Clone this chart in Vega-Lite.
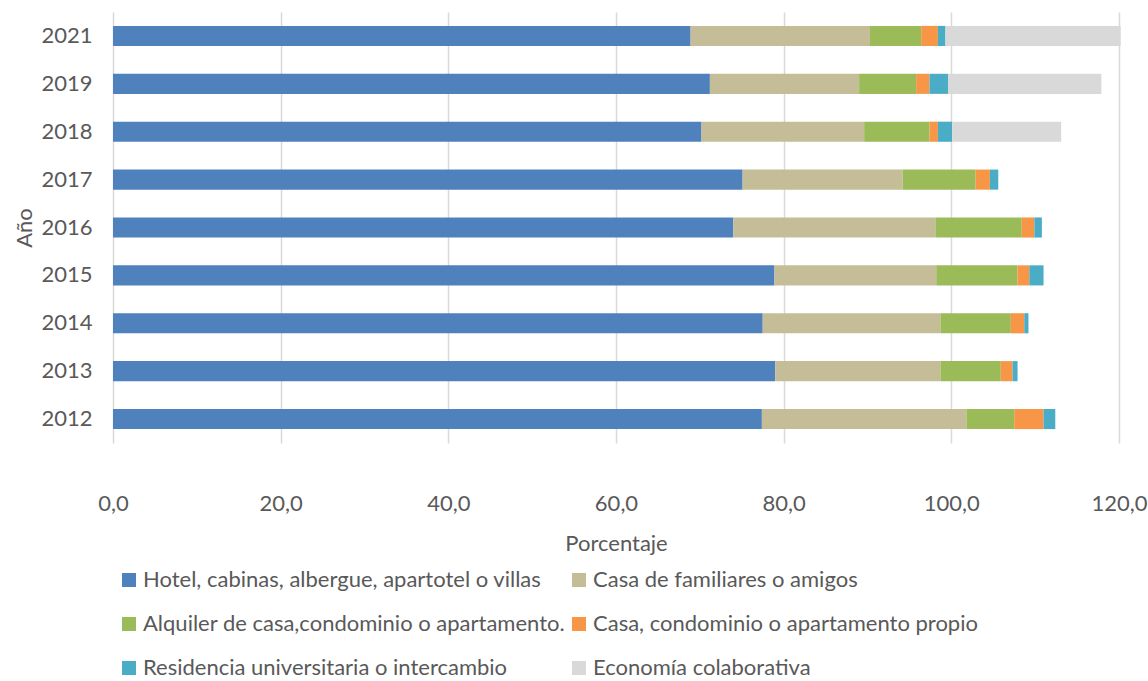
{
  "$schema": "https://vega.github.io/schema/vega-lite/v6.json",
  "autosize": "none",
  "width": 1006,
  "height": 431,
  "padding": {"left": 113, "top": 12, "right": 29, "bottom": 238},
  "background": "white",
  "config": {
    "font": "Lato",
    "view": {"stroke": null},
    "axis": {"labelFont": "Lato", "titleFont": "Lato", "labelColor": "#595959", "titleColor": "#595959", "labelFontSize": 22, "titleFontSize": 22, "titleFontWeight": "normal"},
    "legend": {"labelFont": "Lato", "labelColor": "#595959", "labelFontSize": 22}
  },
  "data": {
    "values": [
      {"anio": "2021", "tipo": "Hotel, cabinas, albergue, apartotel o villas", "orden": 1, "valor": 68.9},
      {"anio": "2021", "tipo": "Casa de familiares o amigos", "orden": 2, "valor": 21.4},
      {"anio": "2021", "tipo": "Alquiler de casa,condominio o apartamento.", "orden": 3, "valor": 6.1},
      {"anio": "2021", "tipo": "Casa, condominio o apartamento propio", "orden": 4, "valor": 2.0},
      {"anio": "2021", "tipo": "Residencia universitaria o intercambio", "orden": 5, "valor": 0.9},
      {"anio": "2021", "tipo": "Economía colaborativa", "orden": 6, "valor": 20.9},
      {"anio": "2019", "tipo": "Hotel, cabinas, albergue, apartotel o villas", "orden": 1, "valor": 71.2},
      {"anio": "2019", "tipo": "Casa de familiares o amigos", "orden": 2, "valor": 17.8},
      {"anio": "2019", "tipo": "Alquiler de casa,condominio o apartamento.", "orden": 3, "valor": 6.8},
      {"anio": "2019", "tipo": "Casa, condominio o apartamento propio", "orden": 4, "valor": 1.6},
      {"anio": "2019", "tipo": "Residencia universitaria o intercambio", "orden": 5, "valor": 2.2},
      {"anio": "2019", "tipo": "Economía colaborativa", "orden": 6, "valor": 18.3},
      {"anio": "2018", "tipo": "Hotel, cabinas, albergue, apartotel o villas", "orden": 1, "valor": 70.2},
      {"anio": "2018", "tipo": "Casa de familiares o amigos", "orden": 2, "valor": 19.4},
      {"anio": "2018", "tipo": "Alquiler de casa,condominio o apartamento.", "orden": 3, "valor": 7.8},
      {"anio": "2018", "tipo": "Casa, condominio o apartamento propio", "orden": 4, "valor": 1.0},
      {"anio": "2018", "tipo": "Residencia universitaria o intercambio", "orden": 5, "valor": 1.7},
      {"anio": "2018", "tipo": "Economía colaborativa", "orden": 6, "valor": 13.0},
      {"anio": "2017", "tipo": "Hotel, cabinas, albergue, apartotel o villas", "orden": 1, "valor": 75.1},
      {"anio": "2017", "tipo": "Casa de familiares o amigos", "orden": 2, "valor": 19.1},
      {"anio": "2017", "tipo": "Alquiler de casa,condominio o apartamento.", "orden": 3, "valor": 8.7},
      {"anio": "2017", "tipo": "Casa, condominio o apartamento propio", "orden": 4, "valor": 1.7},
      {"anio": "2017", "tipo": "Residencia universitaria o intercambio", "orden": 5, "valor": 1.0},
      {"anio": "2016", "tipo": "Hotel, cabinas, albergue, apartotel o villas", "orden": 1, "valor": 74.0},
      {"anio": "2016", "tipo": "Casa de familiares o amigos", "orden": 2, "valor": 24.1},
      {"anio": "2016", "tipo": "Alquiler de casa,condominio o apartamento.", "orden": 3, "valor": 10.3},
      {"anio": "2016", "tipo": "Casa, condominio o apartamento propio", "orden": 4, "valor": 1.5},
      {"anio": "2016", "tipo": "Residencia universitaria o intercambio", "orden": 5, "valor": 0.9},
      {"anio": "2015", "tipo": "Hotel, cabinas, albergue, apartotel o villas", "orden": 1, "valor": 78.9},
      {"anio": "2015", "tipo": "Casa de familiares o amigos", "orden": 2, "valor": 19.3},
      {"anio": "2015", "tipo": "Alquiler de casa,condominio o apartamento.", "orden": 3, "valor": 9.7},
      {"anio": "2015", "tipo": "Casa, condominio o apartamento propio", "orden": 4, "valor": 1.4},
      {"anio": "2015", "tipo": "Residencia universitaria o intercambio", "orden": 5, "valor": 1.7},
      {"anio": "2014", "tipo": "Hotel, cabinas, albergue, apartotel o villas", "orden": 1, "valor": 77.5},
      {"anio": "2014", "tipo": "Casa de familiares o amigos", "orden": 2, "valor": 21.2},
      {"anio": "2014", "tipo": "Alquiler de casa,condominio o apartamento.", "orden": 3, "valor": 8.4},
      {"anio": "2014", "tipo": "Casa, condominio o apartamento propio", "orden": 4, "valor": 1.6},
      {"anio": "2014", "tipo": "Residencia universitaria o intercambio", "orden": 5, "valor": 0.5},
      {"anio": "2013", "tipo": "Hotel, cabinas, albergue, apartotel o villas", "orden": 1, "valor": 79.0},
      {"anio": "2013", "tipo": "Casa de familiares o amigos", "orden": 2, "valor": 19.7},
      {"anio": "2013", "tipo": "Alquiler de casa,condominio o apartamento.", "orden": 3, "valor": 7.2},
      {"anio": "2013", "tipo": "Casa, condominio o apartamento propio", "orden": 4, "valor": 1.4},
      {"anio": "2013", "tipo": "Residencia universitaria o intercambio", "orden": 5, "valor": 0.6},
      {"anio": "2012", "tipo": "Hotel, cabinas, albergue, apartotel o villas", "orden": 1, "valor": 77.4},
      {"anio": "2012", "tipo": "Casa de familiares o amigos", "orden": 2, "valor": 24.4},
      {"anio": "2012", "tipo": "Alquiler de casa,condominio o apartamento.", "orden": 3, "valor": 5.7},
      {"anio": "2012", "tipo": "Casa, condominio o apartamento propio", "orden": 4, "valor": 3.5},
      {"anio": "2012", "tipo": "Residencia universitaria o intercambio", "orden": 5, "valor": 1.4}
    ]
  },
  "mark": {"type": "bar"},
  "encoding": {
    "y": {
      "field": "anio", "type": "nominal", "sort": "descending",
      "title": "Año",
      "scale": {"paddingInner": 0.58, "paddingOuter": 0.29},
      "axis": {"domain": false, "ticks": false, "grid": false, "labelPadding": 21, "titlePadding": 4}
    },
    "x": {
      "field": "valor", "type": "quantitative", "stack": "zero",
      "title": "Porcentaje",
      "scale": {"domain": [0, 120], "nice": false},
      "axis": {"values": [0, 20, 40, 60, 80, 100, 120], "labelExpr": "replace(format(datum.value, '.1f'), '.', ',')", "domain": false, "ticks": false, "grid": true, "gridColor": "#d9d9d9", "gridWidth": 1.5, "labelPadding": 50, "titlePadding": 19, "labelFlush": false}
    },
    "color": {
      "field": "tipo", "type": "nominal",
      "scale": {
        "domain": ["Hotel, cabinas, albergue, apartotel o villas", "Casa de familiares o amigos", "Alquiler de casa,condominio o apartamento.", "Casa, condominio o apartamento propio", "Residencia universitaria o intercambio", "Economía colaborativa"],
        "range": ["#4F81BD", "#C4BD97", "#9BBB59", "#F79646", "#4BACC6", "#D9D9D9"]
      },
      "legend": {"title": null, "orient": "none", "legendX": 5, "legendY": 557, "direction": "horizontal", "columns": 2, "symbolType": "square", "symbolSize": 196, "symbolStrokeWidth": 0, "labelOffset": 3, "columnPadding": 2, "rowPadding": 22, "labelLimit": 600}
    },
    "order": {"field": "orden", "type": "quantitative"}
  }
}
